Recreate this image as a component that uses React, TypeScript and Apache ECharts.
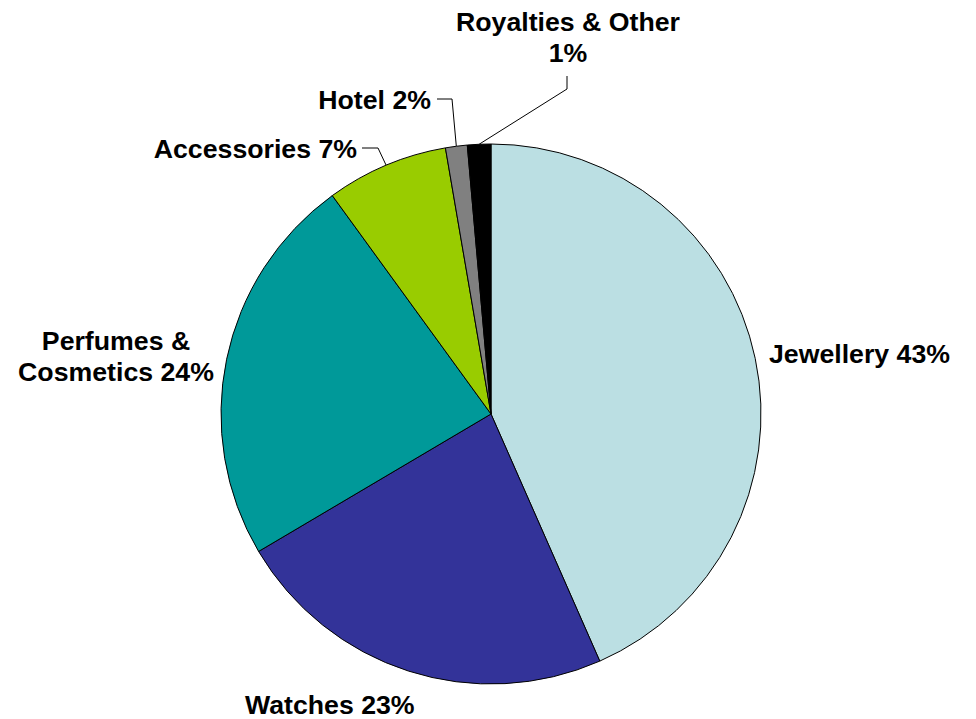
import React, { useEffect, useRef } from "react";
import * as echarts from "echarts";

const categories = ["Jewellery", "Watches", "Perfumes &\nCosmetics", "Accessories", "Hotel", "Royalties & Other\n"];
const values = [43.4, 23.1, 23.5, 7.3, 1.3, 1.4];
const percentLabels = ["43%", "23%", "24%", "7%", "2%", "1%"];
const colors = ["#BBDFE3", "#333399", "#009999", "#99CC00", "#808080", "#000000"];

// label anchor placement (style only)
const labelPlacement = [
  { x: 769, y: 354, align: "left", line: null },
  { x: 245, y: 705, align: "left", line: null },
  { x: 116, y: 356, align: "center", line: null },
  { x: 357, y: 149, align: "right", line: [[378, 148], [362, 148]] },
  { x: 431, y: 100, align: "right", line: [[452, 99], [437, 99]] },
  { x: 568, y: 37, align: "center", line: [[567, 89], [567, 76]] },
];

export default function App() {
  const ref = useRef<HTMLDivElement>(null);
  useEffect(() => {
    document.body.style.margin = "0";
    const chart = echarts.init(ref.current!, null, { renderer: "svg" });
    const data = categories.map((name, i) => ({
      name,
      value: values[i],
      itemStyle: { color: colors[i] },
      labelLine: { show: !!labelPlacement[i].line },
    }));
    chart.setOption({
      animation: false,
      backgroundColor: "#ffffff",
      series: [
        {
          type: "pie",
          center: [491, 414],
          radius: 270,
          startAngle: 90,
          clockwise: true,
          avoidLabelOverlap: false,
          itemStyle: { borderColor: "#000000", borderWidth: 1 },
          label: {
            show: true,
            position: "outside",
            color: "#000000",
            fontFamily: "Liberation Sans, Arial, sans-serif",
            fontWeight: "bold",
            fontSize: 26.7,
            lineHeight: 31,
            formatter: (p: any) => {
              const name: string = categories[p.dataIndex];
              return name.endsWith("\n") ? name + percentLabels[p.dataIndex] : name + " " + percentLabels[p.dataIndex];
            },
          },
          labelLine: {
            show: true,
            lineStyle: { color: "#000000", width: 1 },
            length: 10,
            length2: 10,
          },
          labelLayout: (params: any) => {
            const pl = labelPlacement[params.dataIndex];
            const res: any = {
              x: pl.x,
              y: pl.y,
              align: pl.align,
              verticalAlign: "middle",
            };
            if (pl.line && params.labelLinePoints) {
              res.labelLinePoints = [params.labelLinePoints[0], pl.line[0], pl.line[1]];
            }
            return res;
          },
          data,
        },
      ],
    });
    return () => chart.dispose();
  }, []);
  return <div ref={ref} style={{ width: 976, height: 719 }} />;
}
